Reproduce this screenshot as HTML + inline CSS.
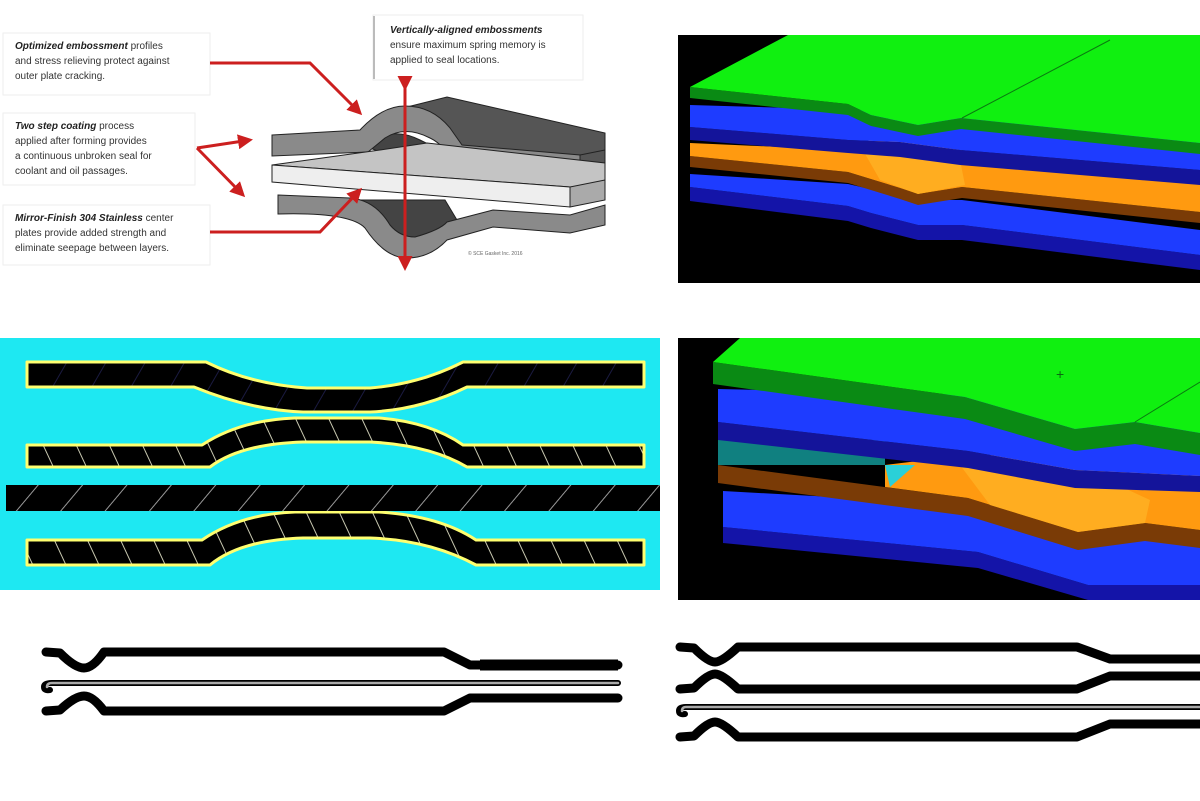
<!DOCTYPE html>
<html><head><meta charset="utf-8"><style>
html,body{margin:0;padding:0;background:#fff;}
svg{display:block;}
text{font-family:"Liberation Sans",sans-serif;font-size:10px;fill:#333;}
.b{font-weight:bold;font-style:italic;fill:#222;}
</style></head><body>
<svg width="1200" height="801" viewBox="0 0 1200 801" xmlns="http://www.w3.org/2000/svg">
<defs>
<pattern id="h0" width="34" height="40" patternUnits="userSpaceOnUse" patternTransform="rotate(30)">
<rect width="34" height="40" fill="#000"/><line x1="1" y1="0" x2="1" y2="40" stroke="#1a1a40" stroke-width="1"/></pattern>
<pattern id="h1" width="30" height="40" patternUnits="userSpaceOnUse" patternTransform="rotate(-25)">
<rect width="30" height="40" fill="#000"/><line x1="1" y1="0" x2="1" y2="40" stroke="#c8c8b0" stroke-width="1"/></pattern>
<pattern id="h2" width="34" height="40" patternUnits="userSpaceOnUse" patternTransform="rotate(40)">
<rect width="34" height="40" fill="#000"/><line x1="1" y1="0" x2="1" y2="40" stroke="#999" stroke-width="1"/></pattern>
<marker id="ar" viewBox="0 0 10 10" refX="8" refY="5" markerWidth="5" markerHeight="5" orient="auto"><path d="M0,0L10,5L0,10z" fill="#cc1f1f"/></marker>
</defs>

<rect x="3" y="33" width="207" height="62" fill="#fff" stroke="#eee"/>
<text x="15" y="49"><tspan class="b">Optimized embossment</tspan> profiles</text>
<text x="15" y="64">and stress relieving protect against</text>
<text x="15" y="79">outer plate cracking.</text>
<rect x="3" y="113" width="192" height="72" fill="#fff" stroke="#eee"/>
<text x="15" y="129"><tspan class="b">Two step coating</tspan> process</text>
<text x="15" y="144">applied after forming provides</text>
<text x="15" y="159">a continuous unbroken seal for</text>
<text x="15" y="174">coolant and oil  passages.</text>
<rect x="3" y="205" width="207" height="60" fill="#fff" stroke="#eee"/>
<text x="15" y="221"><tspan class="b">Mirror-Finish 304 Stainless</tspan> center</text>
<text x="15" y="236">plates provide added strength and</text>
<text x="15" y="251">eliminate seepage between layers.</text>
<rect x="373" y="15" width="210" height="65" fill="#fff" stroke="#eee"/>
<line x1="374" y1="16" x2="374" y2="79" stroke="#bbb" stroke-width="2"/>
<text x="390" y="33" class="b">Vertically-aligned embossments</text>
<text x="390" y="48">ensure maximum spring memory is</text>
<text x="390" y="63">applied to seal locations.</text>

<!-- plates drawing -->
<path d="M395,110 L447,97 L605,133 L605,165 L460,150 Z" fill="#555" stroke="#222"/>
<path d="M365,146 Q390,125 420,140 L440,150 L380,152Z" fill="#444" stroke="#222"/>
<path d="M272,135 L360,130 Q382,106 405,106 Q432,106 450,128 L462,145 L580,155 L580,175 L457,168 Q445,145 430,138 Q405,125 385,138 L368,152 L272,156 Z" fill="#8a8a8a" stroke="#222"/>
<path d="M580,155 L605,150 L605,170 L580,175Z" fill="#555" stroke="#222"/>
<path d="M272,165 L380,150 L427,143 L605,163 L605,185 L570,187 Z" fill="#c4c4c4" stroke="#222"/>
<path d="M272,165 L570,187 L570,207 L272,182 Z" fill="#eeeeee" stroke="#222"/>
<path d="M570,187 L605,180 L605,200 L570,207Z" fill="#aaa" stroke="#222"/>
<path d="M360,200 L445,200 L460,225 L420,245 L380,235Z" fill="#444" stroke="#222"/>
<path d="M278,195 L350,198 Q375,200 390,225 Q400,237 415,237 Q440,230 447,222 L493,210 L570,215 L605,205 L605,225 L570,233 L493,227 L447,240 Q430,258 407,258 Q385,258 365,228 Q350,212 278,214 Z" fill="#8a8a8a" stroke="#222"/>
<text x="468" y="255" style="font-size:5px;fill:#666">© SCE Gasket Inc. 2016</text>
<g stroke="#cc1f1f" stroke-width="3" fill="none">
<polyline points="210,63 310,63 360,113" marker-end="url(#ar)"/>
<polyline points="197,148 250,140" marker-end="url(#ar)"/>
<polyline points="197,148 243,195" marker-end="url(#ar)"/>
<polyline points="210,232 320,232 360,190" marker-end="url(#ar)"/>
<line x1="405" y1="88" x2="405" y2="268" marker-end="url(#ar)" marker-start="url(#ar)"/>
</g>

<!-- Top-right 3D -->
<rect x="678" y="35" width="522" height="248" fill="#000"/>
<path d="M690,187 L848,206 L871,213 L918,225 L962,225 L1200,255 L1200,270 L962,240 L918,240 L871,228 L848,221 L690,201Z" fill="#1414a8"/>
<path d="M690,174 L848,184 L918,200 L962,200 L1200,230 L1200,255 L962,225 L918,225 L871,213 L848,206 L690,187Z" fill="#1e3cff"/>
<path d="M690,156 L848,172 L900,188 L918,194 L962,187 L1200,212 L1200,223 L962,198 L918,205 L900,199 L848,183 L690,167Z" fill="#7a3b06"/>
<path d="M690,143 L850,150 L870,140 L910,142 L990,155 L1200,175 L1200,212 L962,187 L918,194 L900,188 L848,172 L690,156Z" fill="#ff9a10"/>
<path d="M860,145 L910,140 L960,160 L965,185 L918,194 L880,180Z" fill="#ffad20"/>
<path d="M690,127 L848,140 L900,142 L960,150 L1200,170 L1200,185 L960,165 L900,157 L848,153 L690,140Z" fill="#14149a"/>
<path d="M690,105 L1200,120 L1200,170 L960,150 L900,142 L848,140 L690,127Z" fill="#1e3cff"/>
<path d="M690,87 L848,104 L871,115 L918,125 L961,118 L1200,143 L1200,154 L961,129 L918,136 L871,126 L848,115 L690,98Z" fill="#0a8a14"/>
<path d="M690,87 L788,35 L1200,35 L1200,143 L961,118 L918,125 L871,115 L848,104Z" fill="#10f010"/>
<line x1="962" y1="118" x2="1110" y2="40" stroke="#0a7a10" stroke-width="1"/>

<!-- Middle-left cyan -->
<rect x="0" y="338" width="660" height="252" fill="#1ee8f2"/>
<g stroke="#ffff70" stroke-width="3" stroke-linejoin="round">
<path d="M27,362 L206,362 Q250,384 307,388 L370,388 Q420,384 463,362 L644,362 L644,387 L467,387 Q420,410 370,412 L303,412 Q250,410 194,387 L27,387Z" fill="url(#h0)"/>
<path d="M27,445 L202,445 Q240,420 295,418 L379,418 Q430,422 463,445 L644,445 L644,467 L467,467 Q430,445 370,442 L303,442 Q240,444 210,467 L27,467Z" fill="url(#h1)"/>
<path d="M27,540 L202,540 Q240,514 295,512 L379,512 Q440,516 476,540 L644,540 L644,565 L476,565 Q430,540 370,538 L303,538 Q240,540 210,565 L27,565Z" fill="url(#h1)"/>
</g>
<rect x="6" y="485" width="654" height="26" fill="url(#h2)"/>

<!-- Middle-right 3D -->
<rect x="678" y="338" width="522" height="262" fill="#000"/>
<path d="M723,527 L978,552 L1088,585 L1200,585 L1200,600 L1088,600 L978,568 L723,543Z" fill="#1414a8"/>
<path d="M723,491 L978,505 L1088,540 L1200,540 L1200,585 L1088,585 L978,552 L723,527Z" fill="#1e3cff"/>
<path d="M718,465 L968,498 L1078,532 L1145,523 L1200,530 L1200,548 L1145,541 L1078,550 L968,516 L718,483Z" fill="#7a3b06"/>
<path d="M885,465 L968,455 L1070,455 L1200,470 L1200,530 L1145,523 L1078,532 L968,498 L885,487Z" fill="#ff9a10"/>
<path d="M960,465 L1060,458 L1150,500 L1145,523 L1078,532 L990,505Z" fill="#ffad20"/>
<path d="M885,465 L915,465 L890,487Z" fill="#2ad0d8"/>
<rect x="718" y="440" width="167" height="25" fill="#108080"/>
<path d="M718,422 L968,451 L1075,470 L1200,476 L1200,492 L1075,488 L968,468 L718,440Z" fill="#14149a"/>
<path d="M718,389 L1200,400 L1200,476 L1075,470 L968,451 L718,422Z" fill="#1e3cff"/>
<path d="M713,362 L965,397 L1075,429 L1135,422 L1200,433 L1200,455 L1135,444 L1075,451 L965,419 L713,384Z" fill="#0a8a14"/>
<path d="M713,362 L740,338 L1200,338 L1200,433 L1135,422 L1075,429 L965,397Z" fill="#10f010"/>
<line x1="1135" y1="422" x2="1200" y2="382" stroke="#0a7a10"/>
<text x="1056" y="379" style="font-size:14px;fill:#0a6a10">+</text>

<!-- Bottom-left lines -->
<g fill="none" stroke="#000" stroke-linejoin="round" stroke-linecap="round">
<path d="M46,652 L60,653 Q75,668 84,668 Q93,668 104,652 L444,652 L470,665 L618,665" stroke-width="9"/>
<line x1="480" y1="665" x2="618" y2="665" stroke-width="11" stroke-linecap="butt"/>
<path d="M46,711 L60,710 Q75,696 84,696 Q93,696 104,711 L444,711 L470,698 L618,698" stroke-width="9"/>
<path d="M618,683 L52,683 Q44,683 44,687 Q44,691 50,690" stroke-width="6"/>
<path d="M618,683 L52,683 Q47,683 47,687" stroke="#aaa" stroke-width="2.5"/>
</g>
<g fill="none" stroke="#000" stroke-linejoin="round" stroke-linecap="round">
<path d="M680,647 L694,648 Q708,662 715,662 Q722,662 738,647 L1077,647 L1110,659 L1200,659" stroke-width="9"/>
<path d="M680,689 L694,688 Q708,674 715,674 Q722,674 738,689 L1077,689 L1110,676 L1200,676" stroke-width="9"/>
<path d="M1200,707 L686,707 Q679,707 679,711 Q679,715 685,714" stroke-width="6"/>
<path d="M1200,707 L686,707 Q682,707 682,711" stroke="#aaa" stroke-width="2.5"/>
<path d="M680,737 L694,736 Q708,722 715,722 Q722,722 738,737 L1077,737 L1110,724 L1200,724" stroke-width="9"/>
</g>
</svg>
</body></html>
